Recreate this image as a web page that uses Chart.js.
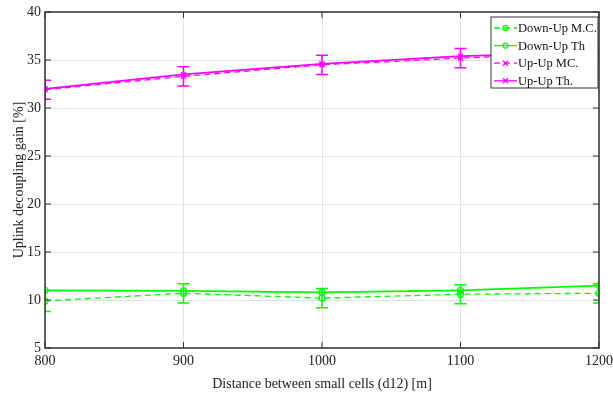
<!DOCTYPE html>
<html>
<head>
  <title>Uplink decoupling gain</title>
  <script src="https://cdn.jsdelivr.net/npm/chart.js"></script>
  <style>
    body { margin: 0; background: #fff; }
    #wrap { width: 613px; height: 399px; }
  </style>
</head>
<body>
  <div id="wrap"><canvas id="chart" width="613" height="399"></canvas></div>
  <script>
    // distances between small cells (m)
    const distances = [800, 900, 1000, 1100, 1200];
    const xTicks = [800, 900, 1000, 1100, 1200];
    const yTicks = [5, 10, 15, 20, 25, 30, 35, 40];

    // series values (%)
    const downUpMC = [9.9, 10.7, 10.2, 10.6, 10.7];
    const downUpMCErr = [1.1, 1.0, 1.0, 1.0, 1.0];
    const downUpTh = [11.0, 10.95, 10.8, 11.0, 11.5];
    const upUpMC = [31.9, 33.3, 34.5, 35.2, 35.8];
    const upUpMCErr = [1.0, 1.0, 1.0, 1.0, 1.0];
    const upUpTh = [32.0, 33.5, 34.6, 35.4, 35.8];

    const GREEN = '#00ff00';
    const MAGENTA = '#ff00ff';
    const FONT = 'Liberation Serif, Times New Roman, serif';

    function pts(vals) {
      return distances.map((d, i) => ({ x: d, y: vals[i] }));
    }

    // error bars for the monte-carlo series
    const errorBars = {
      id: 'errorBars',
      afterDatasetsDraw(chart) {
        const c = chart.ctx, xs = chart.scales.x, ys = chart.scales.y, a = chart.chartArea;
        c.save();
        c.beginPath();
        c.rect(a.left, a.top, a.right - a.left, a.bottom - a.top);
        c.clip();
        chart.data.datasets.forEach(ds => {
          if (!ds.errors) return;
          c.strokeStyle = ds.borderColor;
          c.lineWidth = 1.5;
          c.setLineDash([]);
          ds.data.forEach((p, i) => {
            const x = xs.getPixelForValue(p.x);
            const y1 = ys.getPixelForValue(p.y + ds.errors[i]);
            const y2 = ys.getPixelForValue(p.y - ds.errors[i]);
            c.beginPath();
            c.moveTo(x, y1); c.lineTo(x, y2);
            c.moveTo(x - 6, y1); c.lineTo(x + 6, y1);
            c.moveTo(x - 6, y2); c.lineTo(x + 6, y2);
            c.stroke();
          });
        });
        c.restore();
      }
    };

    // box around the plot, inward ticks, and the legend
    const boxAndLegend = {
      id: 'boxAndLegend',
      afterDraw(chart) {
        const c = chart.ctx, xs = chart.scales.x, ys = chart.scales.y, a = chart.chartArea;
        c.save();
        c.strokeStyle = '#333';
        c.lineWidth = 1.5;
        c.setLineDash([]);
        c.strokeRect(a.left, a.top, a.right - a.left, a.bottom - a.top);
        c.beginPath();
        xTicks.forEach(v => {
          const x = xs.getPixelForValue(v);
          c.moveTo(x, a.bottom); c.lineTo(x, a.bottom - 6);
          c.moveTo(x, a.top); c.lineTo(x, a.top + 6);
        });
        yTicks.forEach(v => {
          const y = ys.getPixelForValue(v);
          c.moveTo(a.left, y); c.lineTo(a.left + 6, y);
          c.moveTo(a.right, y); c.lineTo(a.right - 6, y);
        });
        c.lineWidth = 1;
        c.stroke();

        // legend
        const lx = 491, ly = 17, lw = 107, lh = 71;
        c.fillStyle = '#fff';
        c.fillRect(lx, ly, lw, lh);
        c.strokeStyle = '#333';
        c.lineWidth = 1;
        c.strokeRect(lx, ly, lw, lh);
        c.font = '12.5px ' + FONT;
        c.textBaseline = 'middle';
        chart.data.datasets.forEach((ds, i) => {
          const y = ly + 11 + i * 17.6;
          c.strokeStyle = ds.borderColor;
          c.lineWidth = 1.3;
          c.setLineDash(ds.borderDash || []);
          c.beginPath();
          c.moveTo(lx + 3, y); c.lineTo(lx + 26, y);
          c.stroke();
          c.setLineDash([]);
          c.beginPath();
          const mx = lx + 14.5;
          if (ds.pointStyle === 'circle') {
            c.arc(mx, y, 2.5, 0, Math.PI * 2);
          } else {
            c.moveTo(mx - 2.5, y - 2.5); c.lineTo(mx + 2.5, y + 2.5);
            c.moveTo(mx - 2.5, y + 2.5); c.lineTo(mx + 2.5, y - 2.5);
          }
          c.stroke();
          c.fillStyle = '#111';
          c.fillText(ds.label, lx + 27, y + 1);
        });
        c.restore();
      }
    };

    const chart = new Chart(document.getElementById('chart').getContext('2d'), {
      type: 'line',
      data: {
        datasets: [{
          label: 'Down-Up M.C.',
          data: pts(downUpMC),
          errors: downUpMCErr,
          borderColor: GREEN,
          borderDash: [6, 4],
          borderWidth: 1.3,
          pointStyle: 'circle',
          pointRadius: 3,
          pointBorderWidth: 1.3,
          pointBackgroundColor: 'rgba(0,0,0,0)'
        }, {
          label: 'Down-Up Th',
          data: pts(downUpTh),
          borderColor: GREEN,
          borderWidth: 1.8,
          pointStyle: 'circle',
          pointRadius: 3,
          pointBorderWidth: 1.3,
          pointBackgroundColor: 'rgba(0,0,0,0)'
        }, {
          label: 'Up-Up MC.',
          data: pts(upUpMC),
          errors: upUpMCErr,
          borderColor: MAGENTA,
          borderDash: [6, 4],
          borderWidth: 1.3,
          pointStyle: 'crossRot',
          pointRadius: 3.5,
          pointBorderWidth: 1.3
        }, {
          label: 'Up-Up Th.',
          data: pts(upUpTh),
          borderColor: MAGENTA,
          borderWidth: 1.8,
          pointStyle: 'crossRot',
          pointRadius: 3.5,
          pointBorderWidth: 1.3
        }]
      },
      options: {
        responsive: false,
        animation: false,
        layout: { padding: { top: 12, right: 14, left: 0, bottom: 0 } },
        plugins: {
          legend: { display: false },
          tooltip: { enabled: false }
        },
        scales: {
          x: {
            type: 'linear',
            min: 800, max: 1200,
            afterFit: s => { s.height = 51; s.paddingLeft = 0; s.paddingRight = 0; },
            afterBuildTicks: s => { s.ticks = xTicks.map(v => ({ value: v })); },
            grid: { color: '#e3e3e3', drawTicks: false, lineWidth: 1 },
            border: { display: false },
            ticks: {
              padding: 5, color: '#222', font: { family: FONT, size: 14 },
              callback: v => String(v)
            },
            title: {
              display: true,
              text: 'Distance between small cells (d12) [m]',
              color: '#222',
              font: { family: FONT, size: 14 },
              padding: { top: 0, bottom: 6 }
            }
          },
          y: {
            min: 5, max: 40,
            afterFit: s => { s.width = 45; s.paddingTop = 0; s.paddingBottom = 0; },
            afterBuildTicks: s => { s.ticks = yTicks.map(v => ({ value: v })); },
            grid: { color: '#e3e3e3', drawTicks: false, lineWidth: 1 },
            border: { display: false },
            ticks: { padding: 4, color: '#222', font: { family: FONT, size: 14 } },
            title: {
              display: true,
              text: 'Uplink decoupling gain [%]',
              color: '#222',
              font: { family: FONT, size: 14 },
              padding: { top: 11, bottom: 0 }
            }
          }
        }
      },
      plugins: [errorBars, boxAndLegend]
    });
  </script>
</body>
</html>
